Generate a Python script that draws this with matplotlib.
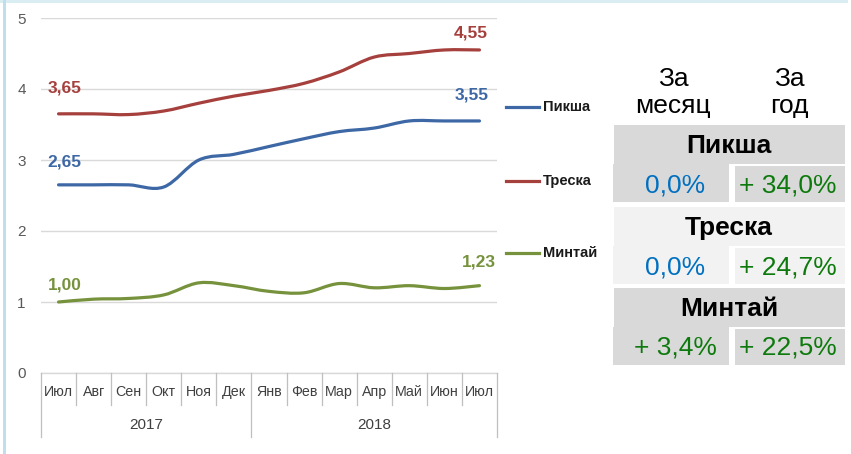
import matplotlib
matplotlib.use("Agg")
import matplotlib.pyplot as plt
from matplotlib.path import Path
from matplotlib.patches import PathPatch, Rectangle
from matplotlib.lines import Line2D

# ---------------- data ----------------
months = ["Июл", "Авг", "Сен", "Окт", "Ноя", "Дек", "Янв", "Фев", "Мар", "Апр", "Май", "Июн", "Июл"]
years = ["2017", "2018"]
year_first_idx = [0, 6]          # first month index of each year group
series_names = ["Пикша", "Треска", "Минтай"]
piksha = [2.65, 2.65, 2.65, 2.62, 3.00, 3.08, 3.19, 3.30, 3.40, 3.45, 3.55, 3.55, 3.55]
treska = [3.65, 3.65, 3.64, 3.69, 3.80, 3.90, 3.98, 4.08, 4.24, 4.45, 4.50, 4.55, 4.55]
mintai = [1.00, 1.04, 1.05, 1.10, 1.27, 1.23, 1.15, 1.13, 1.26, 1.20, 1.23, 1.19, 1.23]
y_ticks = [0, 1, 2, 3, 4, 5]
month_change = [0.0, 0.0, 3.4]   # % за месяц
year_change = [34.0, 24.7, 22.5]  # % за год

# ---------------- styles ----------------
W, H = 851, 454
colors = ["#3d68a5", "#a5403d", "#76923c"]
# label offsets in pixels (dx, dy) for first and last points
first_off = [(6, 23), (6, 26), (6, 17)]
last_off = [(-8, 26), (-9, 17), (-1, 24)]
legend_y = [107, 181, 253]
FONT = ["Liberation Sans", "DejaVu Sans"]
plt.rcParams["font.family"] = FONT


def fx(x):
    return x / W


def fy(y):
    return 1 - y / H


fig = plt.figure(figsize=(W / 100, H / 100), dpi=100)
fig.patch.set_facecolor("white")

# frame strips
fig.add_artist(Rectangle((0, fy(3)), fx(848), 3 / H, transform=fig.transFigure,
                         facecolor="#d9edf3", edgecolor="none"))
fig.add_artist(Rectangle((fx(3), 0), 3 / W, 1, transform=fig.transFigure,
                         facecolor="#bfe0ea", edgecolor="none"))

ax = fig.add_axes([fx(41), fy(373), 456 / W, 355 / H])
ax.set_xlim(-0.5, len(months) - 0.5)
ax.set_ylim(0, 5)
for s in ax.spines.values():
    s.set_visible(False)
ax.set_xticks([])
ax.set_yticks(y_ticks)
ax.set_yticklabels([str(t) for t in y_ticks], fontsize=11, color="#595959")
ax.tick_params(axis="y", length=0, pad=11)
ax.yaxis.grid(True, color="#d9d9d9", lw=1)
ax.set_axisbelow(True)


def smooth_path(xs, ys):
    n = len(xs)
    pts = list(zip(xs, ys))
    verts = [pts[0]]
    codes = [Path.MOVETO]
    for i in range(n - 1):
        p0 = pts[i - 1] if i > 0 else pts[i]
        p1 = pts[i]
        p2 = pts[i + 1]
        p3 = pts[i + 2] if i + 2 < n else pts[i + 1]
        c1 = (p1[0] + (p2[0] - p0[0]) / 6, p1[1] + (p2[1] - p0[1]) / 6)
        c2 = (p2[0] - (p3[0] - p1[0]) / 6, p2[1] - (p3[1] - p1[1]) / 6)
        verts += [c1, c2, p2]
        codes += [Path.CURVE4] * 3
    return Path(verts, codes)


xs = list(range(len(months)))
all_series = [piksha, treska, mintai]
for k, (vals, c) in enumerate(zip(all_series, colors)):
    patch = PathPatch(smooth_path(xs, vals), facecolor="none", edgecolor=c,
                      lw=2.3, capstyle="round", joinstyle="round")
    ax.add_patch(patch)
    for idx, off in ((0, first_off[k]), (len(vals) - 1, last_off[k])):
        ax.annotate(f"{vals[idx]:.2f}".replace(".", ","), xy=(xs[idx], vals[idx]),
                    xytext=off, textcoords="offset pixels", ha="center", va="center",
                    fontsize=12.5, fontweight="bold", color=c, annotation_clip=False)

# category axis (months + years)
trans = ax.get_xaxis_transform()
ax.plot([-0.5, len(months) - 0.5], [0, 0], transform=trans, color="#d9d9d9", lw=1, clip_on=False)
for i, m in enumerate(months):
    ax.text(i, -0.0535, m, transform=trans, ha="center", va="center",
            fontsize=10.3, color="#404040")
bounds = [i - 0.5 for i in range(len(months) + 1)]
year_bounds = [b - 0.5 for b in year_first_idx] + [len(months) - 0.5]
for b in bounds:
    bottom = -0.180 if b in year_bounds else -0.090
    ax.plot([b, b], [0, bottom], transform=trans, color="#bfbfbf", lw=0.9, clip_on=False)
for j, yr in enumerate(years):
    xc = (year_bounds[j] + year_bounds[j + 1]) / 2
    ax.text(xc, -0.1465, yr, transform=trans, ha="center", va="center",
            fontsize=11, color="#404040")

# legend
for k, name in enumerate(series_names):
    fig.add_artist(Line2D([fx(506), fx(539)], [fy(legend_y[k])] * 2, color=colors[k],
                          lw=2.3, transform=fig.transFigure))
    fig.text(fx(543), fy(legend_y[k]), name, ha="left", va="center",
             fontsize=10.5, fontweight="bold", color="#1a1a1a")

# table
TF = 19
fig.text(fx(673), fy(86), "За", ha="center", va="baseline", fontsize=TF, color="#000000")
fig.text(fx(673), fy(113), "месяц", ha="center", va="baseline", fontsize=TF, color="#000000")
fig.text(fx(789), fy(86), "За", ha="center", va="baseline", fontsize=TF, color="#000000")
fig.text(fx(789), fy(113), "год", ha="center", va="baseline", fontsize=TF, color="#000000")

block_tops = [125, 207, 288]
block_fill = ["#d9d9d9", "#f2f2f2", "#d9d9d9"]


def rect(x0, y0, x1, y1, color):
    fig.add_artist(Rectangle((fx(x0), fy(y1)), (x1 - x0) / W, (y1 - y0) / H,
                             transform=fig.transFigure, facecolor=color, edgecolor="none"))


def fmt(v):
    s = f"{abs(v):.1f}".replace(".", ",")
    return f"+ {s}%" if v > 0 else f"{s}%"


def col(v):
    return "#0e7a0e" if v > 0 else "#0070c0"


for k, name in enumerate(series_names):
    t = block_tops[k]
    rect(614, t, 845, t + 39, block_fill[k])
    rect(613, t + 39, 729, t + 77, block_fill[k])
    rect(735, t + 41, 845, t + 77, block_fill[k])
    fig.text(fx(729), fy(t + 28), name, ha="center", va="baseline", fontsize=TF,
             fontweight="bold", color="#000000")
    fig.text(fx(675), fy(t + 67), fmt(month_change[k]), ha="center", va="baseline",
             fontsize=TF, color=col(month_change[k]))
    fig.text(fx(788), fy(t + 67), fmt(year_change[k]), ha="center", va="baseline",
             fontsize=TF, color=col(year_change[k]))

fig.savefig("out.png", dpi=100)
